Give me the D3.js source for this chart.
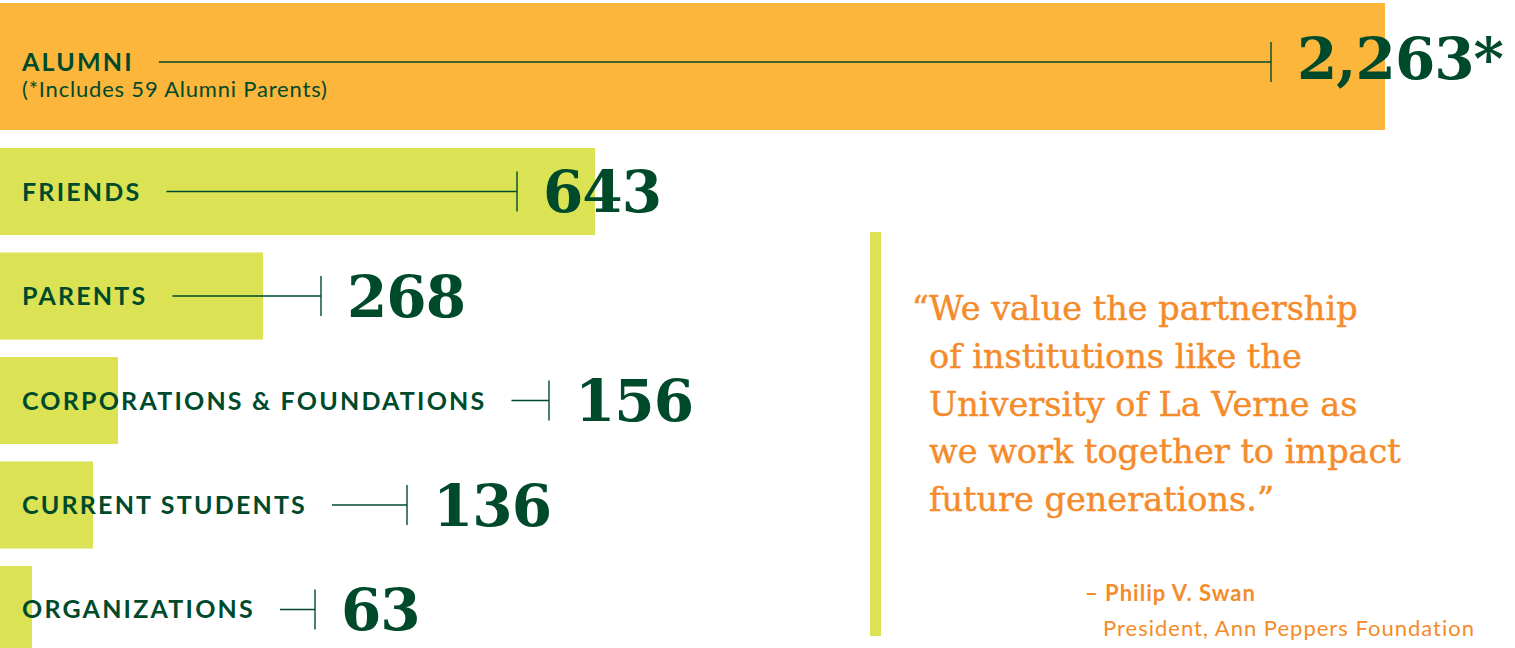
<!DOCTYPE html>
<html lang="en">
<head>
<meta charset="UTF-8">
<title>Donors by constituency</title>
<script src="https://d3js.org/d3.v7.min.js"></script>
<style>
    html, body { margin: 0; padding: 0; background: #fff; overflow: hidden; }
    .label { font-family: Lato, "Open Sans", sans-serif; font-weight: 700; fill: #004a2c; }
    .note { font-family: Lato, "Open Sans", sans-serif; font-weight: 400; fill: #004a2c; }
    .num { font-family: "DejaVu Serif", serif; font-weight: 700; fill: #004a2c; }
    .quote { font-family: "DejaVu Serif", serif; fill: #f58b2a; stroke: #f58b2a; stroke-width: 0.45px; }
    .sig { font-family: Lato, "Open Sans", sans-serif; fill: #f58b2a; }
</style>
</head>
<body>
<div id="chart"></div>
<script>
    // data
    const categories = ["ALUMNI", "FRIENDS", "PARENTS", "CORPORATIONS & FOUNDATIONS", "CURRENT STUDENTS", "ORGANIZATIONS"];
    const values = [2263, 643, 268, 156, 136, 63];
    const valueLabels = ["2,263*", "643", "268", "156", "136", "63"];
    const alumniNote = "(*Includes 59 Alumni Parents)";
    const quoteLines = [
        "We value the partnership",
        "of institutions like the",
        "University of La Verne as",
        "we work together to impact",
        "future generations.\u201D"
    ];
    const attribution = ["\u2013 Philip V. Swan", "President, Ann Peppers Foundation"];

    // layout (not data)
    const width = 1515, height = 648;
    const barStops = [0, 32, 93, 118, 263, 595, 1385];   // designer's non-linear bar lengths
    const tickX = [1271, 517, 321, 549, 407, 315];      // where each leader line stops
    const labelX = 22;

    const svg = d3.select("#chart").append("svg")
        .attr("width", width)
        .attr("height", height);

    // the infographic bars are not to linear scale, so use a piecewise scale
    const x = d3.scaleLinear()
        .domain([0].concat(values.slice().sort(d3.ascending)))
        .range(barStops);

    const yBand = d3.scaleBand()
        .domain(categories.slice(1))
        .range([148, 653])
        .paddingInner(0.167);

    const rows = categories.map(function (c, i) {
        if (i === 0) {
            return { cat: c, value: values[i], label: valueLabels[i], top: 3, h: 127, lineY: 62, numY: 58, tick: tickX[i], fill: "#fbb63b" };
        }
        const top = yBand(c);
        const mid = top + yBand.bandwidth() / 2;
        return { cat: c, value: values[i], label: valueLabels[i], top: top, h: yBand.bandwidth(), lineY: mid, numY: mid, tick: tickX[i], fill: "#dbe354" };
    });

    // bars
    svg.selectAll(".bar")
        .data(rows)
        .enter()
        .append("rect")
        .attr("class", "bar")
        .attr("x", 0)
        .attr("y", function (d) { return d.top; })
        .attr("width", function (d) { return x(d.value); })
        .attr("height", function (d) { return d.h; })
        .attr("fill", function (d) { return d.fill; });

    // category labels
    const labels = svg.selectAll(".label")
        .data(rows)
        .enter()
        .append("text")
        .attr("class", "label")
        .attr("x", labelX)
        .attr("y", function (d) { return d.lineY; })
        .attr("dy", "0.36em")
        .style("font-size", "25px")
        .style("letter-spacing", "2.2px")
        .text(function (d) { return d.cat; });

    svg.append("text")
        .attr("class", "note")
        .attr("x", labelX)
        .attr("y", 97)
        .style("font-size", "22px")
        .style("letter-spacing", "0.8px")
        .text(alumniNote);

    // leader lines with end tick
    labels.each(function (d) {
        const end = labelX + this.getComputedTextLength() + 25;
        svg.append("line")
            .attr("x1", end).attr("x2", d.tick)
            .attr("y1", d.lineY).attr("y2", d.lineY)
            .attr("stroke", "#004a2c").attr("stroke-width", 1.4);
        svg.append("line")
            .attr("x1", d.tick).attr("x2", d.tick)
            .attr("y1", d.lineY - 20).attr("y2", d.lineY + 20)
            .attr("stroke", "#004a2c").attr("stroke-width", 1.4);
    });

    // values
    svg.selectAll(".num")
        .data(rows)
        .enter()
        .append("text")
        .attr("class", "num")
        .attr("x", function (d) { return d.tick + 26; })
        .attr("y", function (d) { return d.numY; })
        .attr("dy", "0.36em")
        .style("font-size", "58px")
        .style("letter-spacing", "-1px")
        .text(function (d) { return d.label; });

    // quote panel
    svg.append("rect")
        .attr("x", 870).attr("y", 232)
        .attr("width", 11).attr("height", 404)
        .attr("fill", "#dbe354");

    const quoteX = 929;
    const quote = svg.append("text")
        .attr("class", "quote")
        .style("font-size", "33.5px");
    quote.selectAll("tspan")
        .data(quoteLines)
        .enter()
        .append("tspan")
        .attr("x", quoteX)
        .attr("y", function (d, i) { return 320 + i * 47.8; })
        .text(function (d) { return d; });

    svg.append("text")
        .attr("class", "quote")
        .attr("x", quoteX)
        .attr("y", 320)
        .attr("text-anchor", "end")
        .style("font-size", "33.5px")
        .text("\u201C");

    svg.append("text")
        .attr("class", "sig")
        .attr("x", 1085)
        .attr("y", 601)
        .style("font-size", "22px")
        .style("font-weight", 700)
        .style("letter-spacing", "1px")
        .text(attribution[0]);

    svg.append("text")
        .attr("class", "sig")
        .attr("x", 1103)
        .attr("y", 636)
        .style("font-size", "22px")
        .style("font-weight", 400)
        .style("letter-spacing", "1px")
        .text(attribution[1]);
</script>
</body>
</html>
